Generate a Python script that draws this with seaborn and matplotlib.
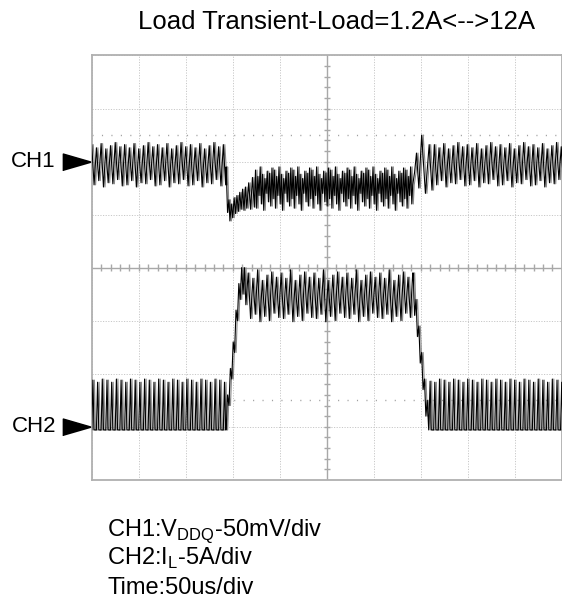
import numpy as np
import pandas as pd
import matplotlib
matplotlib.use("Agg")
import matplotlib.pyplot as plt
import matplotlib.transforms as mtransforms
import seaborn as sns

## Values (time in us, CH1 in mV, CH2 in A)
time_per_div_us = 50
ch1_mv_per_div = 50
ch2_a_per_div = 5
ch1_ref_div = 6
ch2_ref_div = 1
step_up_us = 143
step_down_us = 341.5
ripple_half_us = 2.5

# CH1 light load ripple (before step and after release)
ch1_light_peaks = [16, 13, 17, 12, 15, 18, 14]
ch1_light_troughs = [-22, -18, -24, -20, -21, -17, -23]
# CH1 heavy load ripple (noisier, narrower)
ch1_heavy_peaks = [-8, -14, -5, -12, -16, -9, -11, -6]
ch1_heavy_troughs = [-44, -32, -40, -46, -30, -38, -42, -35]
# CH1 undershoot on load step
ch1_drop_t = [143, 144.5, 146, 147, 148.5, 150, 151.5, 153, 154.5, 156, 157.5, 159, 160.5, 162, 163.5, 165, 167, 169, 171, 173]
ch1_drop_mv = [-5, -48, -36, -56, -40, -53, -34, -49, -32, -47, -29, -45, -26, -46, -24, -44, -20, -45, -15, -43]
# CH1 overshoot on load release
ch1_over_t = [341.5, 343.5, 345.5, 348, 351, 355, 359, 362]
ch1_over_mv = [-22, -10, 8, -25, 25, -30, 16, -27]

# CH2 inductor current, DCM ripple at light load (one cycle = 4 samples)
ch2_light_cycle = [-0.3, 4.4, -0.3, -0.3, -0.3, 4.2, -0.3, -0.3, -0.3, 4.5, -0.3, -0.3]
# CH2 CCM ripple at heavy load
ch2_heavy_peaks = [14.5, 14.0, 14.8, 13.8, 14.3, 14.6, 14.1]
ch2_heavy_troughs = [10.2, 10.6, 9.9, 10.4, 10.0, 10.7, 10.3]
# CH2 current slew on step / release
ch2_rise_t = [143, 144.5, 146, 147.5, 149, 150.5, 152, 153.5, 155, 156.5, 158, 159.5, 161, 162.5, 164]
ch2_rise_a = [-0.3, 3.0, 2.0, 5.5, 4.5, 8.0, 7.0, 11.0, 10.0, 13.5, 12.0, 15.0, 12.5, 15.0, 11.5]
ch2_fall_t = [342, 343.5, 345, 346.5, 348, 349.5, 351, 352.5, 354, 355.5, 357, 358.5, 360]
ch2_fall_a = [14.5, 10.5, 12.0, 8.5, 9.5, 6.0, 7.0, 3.5, 4.5, 1.0, 2.5, -0.3, 4.3]


def alternate(t0, t1, step, highs, lows):
    t = np.arange(t0, t1, step)
    v = np.empty(len(t))
    v[0::2] = np.resize(highs, len(v[0::2]))
    v[1::2] = np.resize(lows, len(v[1::2]))
    return t, v


def repeat(t0, t1, step, pattern):
    t = np.arange(t0, t1, step)
    return t, np.resize(pattern, len(t))


segs = [
    alternate(0, step_up_us, ripple_half_us, ch1_light_peaks, ch1_light_troughs),
    (np.array(ch1_drop_t), np.array(ch1_drop_mv, dtype=float)),
    alternate(174.25, step_down_us, ripple_half_us / 2, ch1_heavy_peaks, ch1_heavy_troughs),
    (np.array(ch1_over_t), np.array(ch1_over_mv, dtype=float)),
    alternate(364.5, 505, ripple_half_us, ch1_light_peaks, ch1_light_troughs),
]
ch1_t = np.concatenate([s[0] for s in segs])
ch1_v = np.concatenate([s[1] for s in segs])

segs = [
    repeat(0, step_up_us, ripple_half_us / 2, ch2_light_cycle),
    (np.array(ch2_rise_t), np.array(ch2_rise_a)),
    alternate(166.5, 342, ripple_half_us, ch2_heavy_peaks, ch2_heavy_troughs),
    (np.array(ch2_fall_t), np.array(ch2_fall_a)),
    repeat(361.25, 505, ripple_half_us / 2, ch2_light_cycle[2:] + ch2_light_cycle[:2]),
]
ch2_t = np.concatenate([s[0] for s in segs])
ch2_v = np.concatenate([s[1] for s in segs])

frames = []
for name, t, div in [("CH1", ch1_t, ch1_ref_div + ch1_v / ch1_mv_per_div),
                     ("CH2", ch2_t, ch2_ref_div + ch2_v / ch2_a_per_div)]:
    # two overlaid acquisitions: a grey one slightly shifted, the black one on top
    frames.append(pd.DataFrame({"time": t + 1.6, "div": div, "trace": name + " grey"}))
    frames.append(pd.DataFrame({"time": t, "div": div, "trace": name + " black"}))
scope = pd.concat(frames, ignore_index=True)

sns.set_style("white")
plt.rcParams["font.family"] = ["Liberation Sans", "DejaVu Sans"]
plt.rcParams["text.color"] = "black"
plt.rcParams["mathtext.fontset"] = "custom"
plt.rcParams["mathtext.rm"] = "Liberation Sans"

fig = plt.figure(figsize=(5.62, 6.03), dpi=100)
ax = fig.add_axes([0.1632, 0.2043, 0.8363, 0.7037])

palette = {"CH1 grey": "#8a8a8a", "CH1 black": "black", "CH2 grey": "#8a8a8a", "CH2 black": "black"}
sns.lineplot(data=scope, x="time", y="div", hue="trace", palette=palette,
             hue_order=["CH1 grey", "CH2 grey", "CH1 black", "CH2 black"],
             estimator=None, sort=False, legend=False, linewidth=0.8, ax=ax, zorder=3)

ax.set_xlim(0, 10 * time_per_div_us)
ax.set_ylim(0, 8)
ax.set_xticks(np.arange(0, 501, time_per_div_us))
ax.set_yticks(np.arange(0, 9, 1))
ax.tick_params(length=0, labelbottom=False, labelleft=False)
ax.set_xlabel("")
ax.set_ylabel("")
ax.grid(True, color="#c8c8c8", linestyle=(0, (1.2, 1.5)), linewidth=0.7)
ax.set_axisbelow(True)
for sp in ax.spines.values():
    sp.set_color("#b0b0b0")
    sp.set_linewidth(1.3)

# centre graticule with minor ticks
ax.axhline(4, color="#a8a8a8", lw=1, zorder=2)
ax.axvline(250, color="#a8a8a8", lw=1, zorder=2)
ax.vlines(np.arange(10, 500, 10), 4 - 0.06, 4 + 0.06, color="#a8a8a8", lw=1, zorder=2)
ax.hlines(np.arange(0.2, 8, 0.2), 250 - 3.2, 250 + 3.2, color="#a8a8a8", lw=1, zorder=2)
# dotted level lines
ax.hlines([ch2_ref_div + 0.5, ch1_ref_div + 0.5], 0, 500, color="#a0a0a0",
          linestyles=(0, (0.8, 6)), lw=1, zorder=2)

# channel markers
trans = mtransforms.blended_transform_factory(ax.transAxes, ax.transData)
arrow = [(-1, -0.29), (-1, 0.29), (0, 0)]
for lab, ref in [("CH1", ch1_ref_div), ("CH2", ch2_ref_div)]:
    ax.plot(0, ref, marker=arrow, markersize=42, color="black", transform=trans, clip_on=False)
    ax.text(-0.076, ref, lab, transform=trans, ha="right", va="center", fontsize=16)

fig.text(336 / 562, 1 - 22 / 603, "Load Transient-Load=1.2A<-->12A",
         ha="center", va="center", fontsize=18.5)
fig.text(107 / 562, 1 - 536 / 603, "CH1:V$_{\\mathrm{DDQ}}$-50mV/div", ha="left", va="baseline", fontsize=17)
fig.text(107 / 562, 1 - 565 / 603, "CH2:I$_{\\mathrm{L}}$-5A/div", ha="left", va="baseline", fontsize=17)
fig.text(107 / 562, 1 - 594 / 603, "Time:50us/div", ha="left", va="baseline", fontsize=17)

fig.savefig("out.png", dpi=100)
